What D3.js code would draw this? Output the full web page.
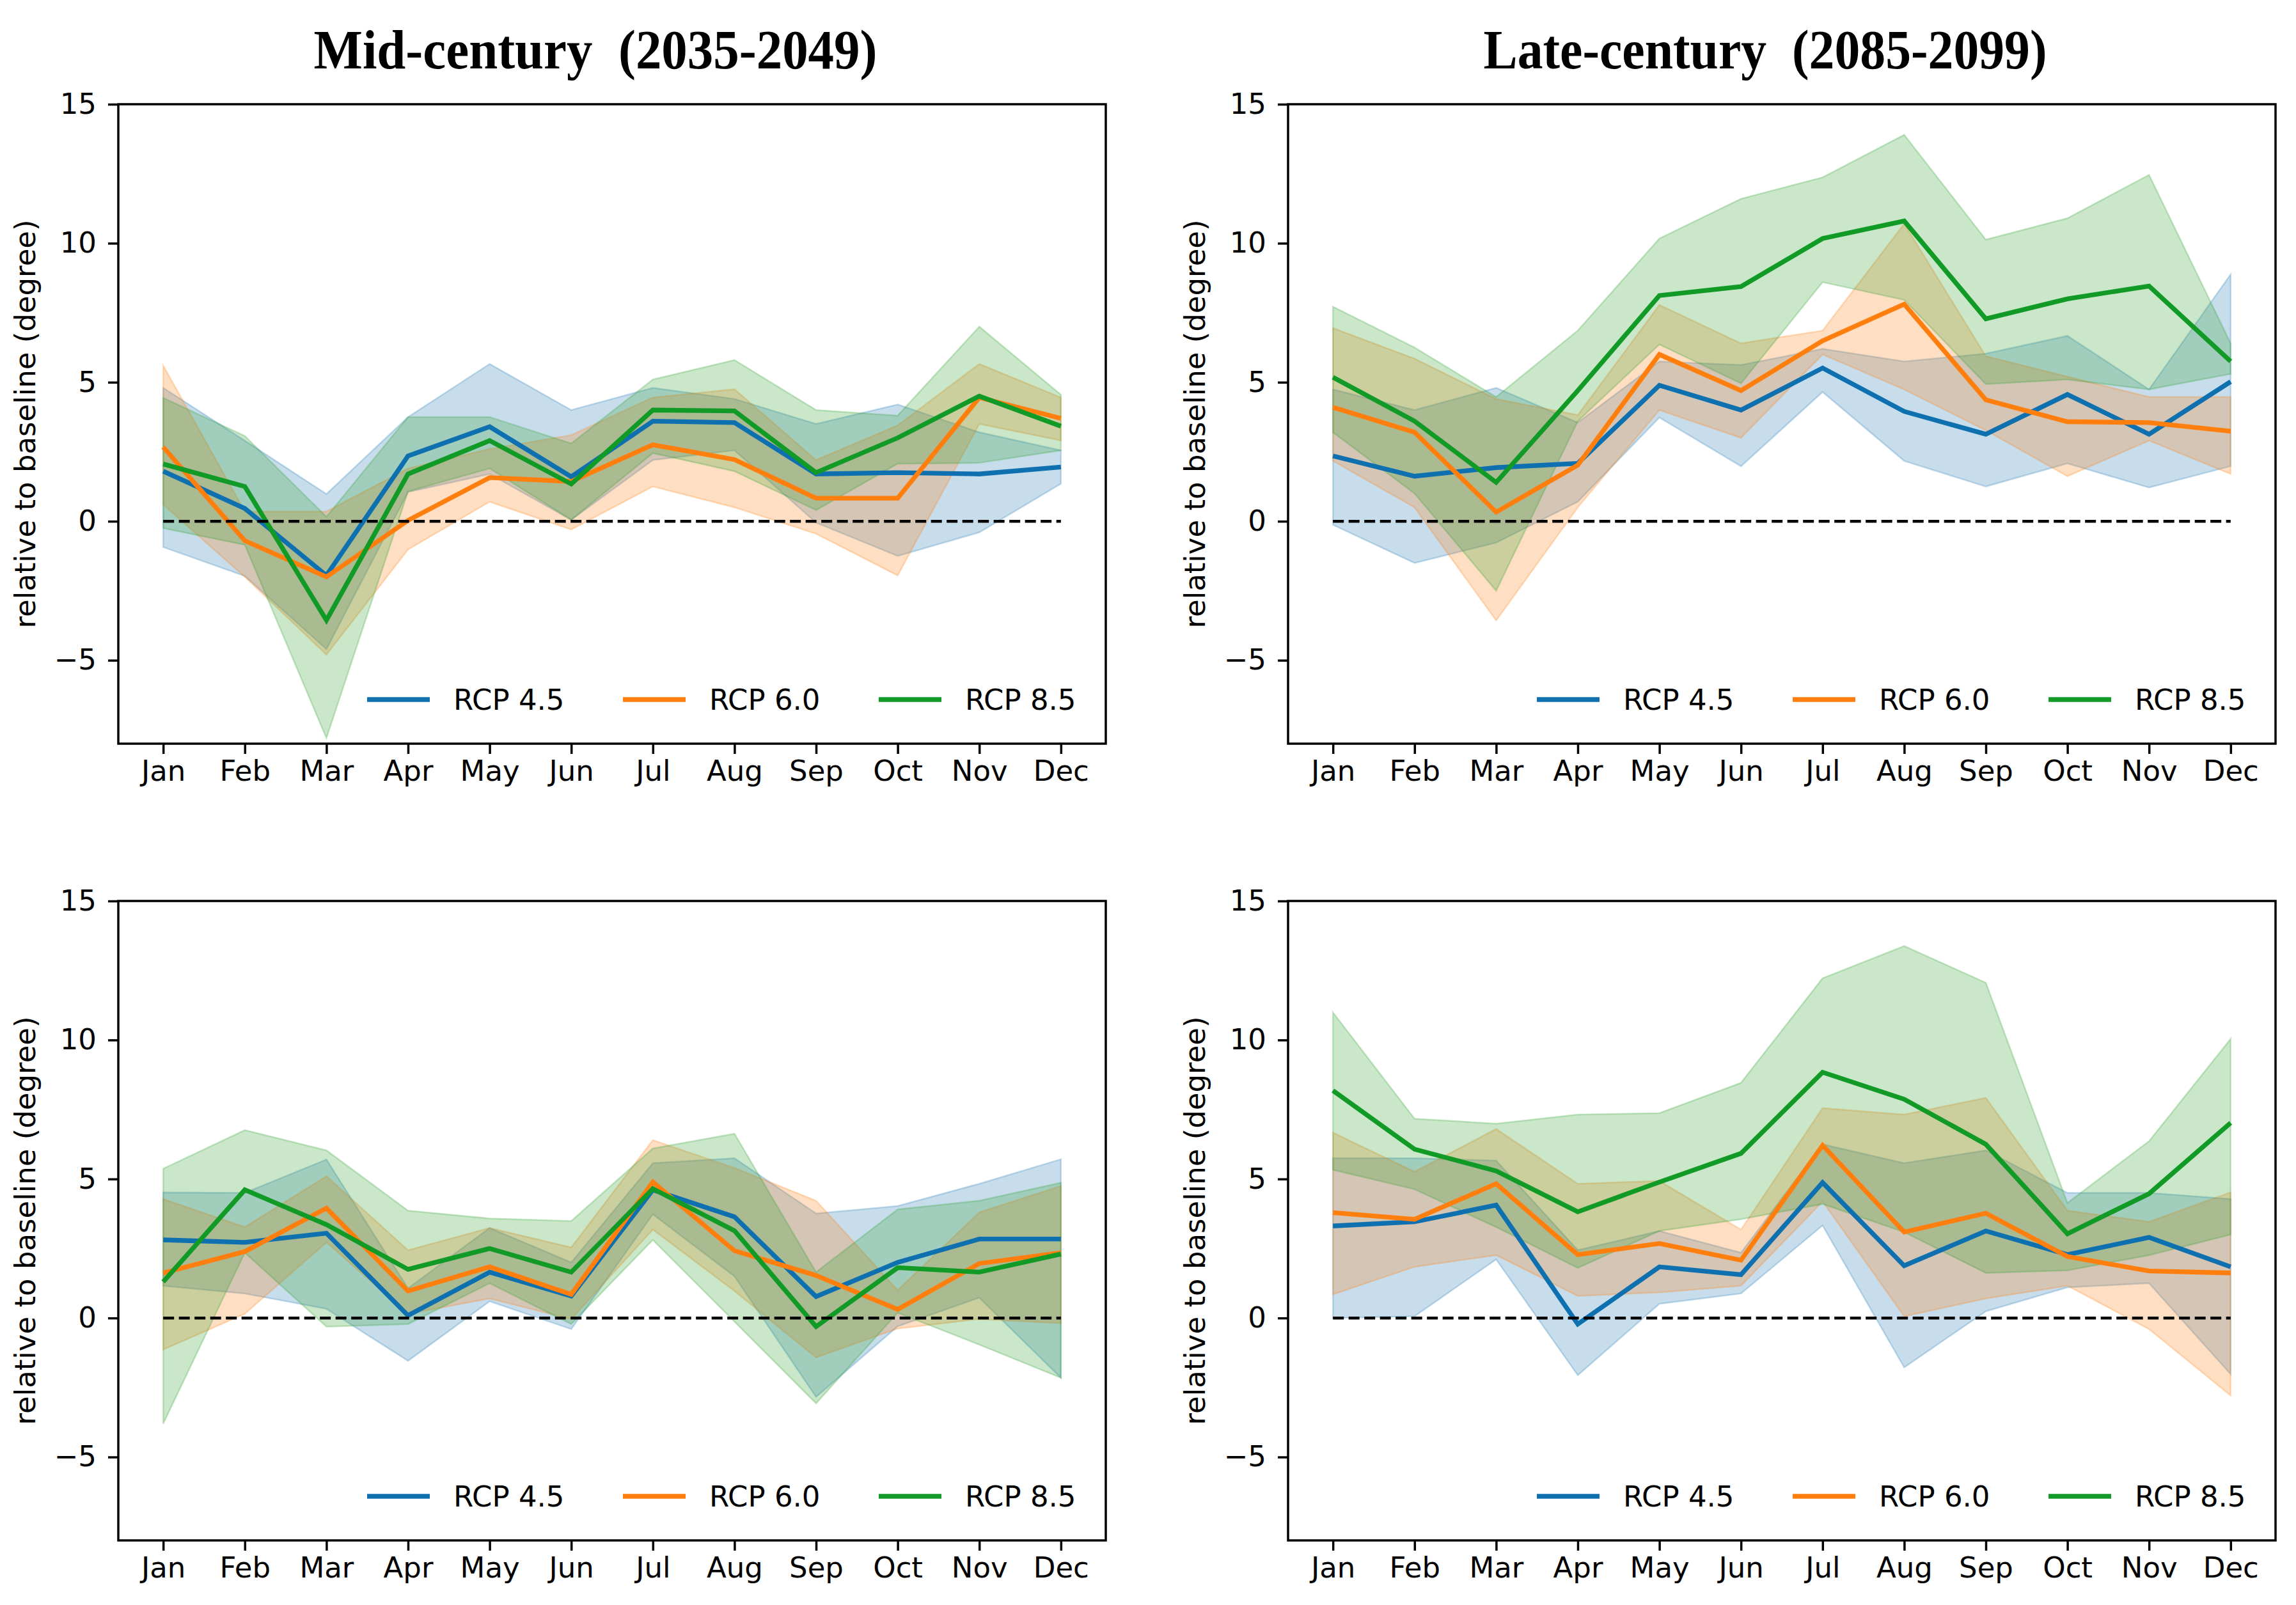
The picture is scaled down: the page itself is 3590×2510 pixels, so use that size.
<!DOCTYPE html>
<html>
<head>
<meta charset="utf-8">
<script src="https://cdn.jsdelivr.net/npm/d3@7"></script>
<style>
  body { margin: 0; background: #fff; }
  svg { display: block; }
</style>
</head>
<body>
<div id="chart"></div>
<script>
// categories
const months = ["Jan","Feb","Mar","Apr","May","Jun","Jul","Aug","Sep","Oct","Nov","Dec"];
const seriesNames = ["RCP 4.5", "RCP 6.0", "RCP 8.5"];
const yTicks = [-5, 0, 5, 10, 15];
const colTitles = ["Mid-century  (2035-2049)", "Late-century  (2085-2099)"];

// rows: RCP 4.5, RCP 6.0, RCP 8.5
// top-left: mid-century
const midTopMean = [
  [1.8, 0.46, -1.95, 2.35, 3.4, 1.6, 3.6, 3.55, 1.7, 1.75, 1.7, 1.95],
  [2.67, -0.7, -2.0, 0.03, 1.57, 1.43, 2.75, 2.22, 0.83, 0.83, 4.45, 3.7],
  [2.06, 1.25, -3.56, 1.7, 2.9, 1.34, 4.0, 3.97, 1.75, 3.0, 4.5, 3.42]
];
const midTopLo = [
  [-0.93, -1.97, -4.6, 1.05, 1.7, 0.05, 2.2, 2.55, -0.05, -1.25, -0.4, 1.35],
  [0.6, -2.0, -4.8, -1.02, 0.7, -0.3, 1.25, 0.5, -0.45, -1.95, 3.5, 2.9],
  [-0.25, -0.85, -7.8, 1.07, 1.9, 0.05, 2.45, 1.8, 0.4, 2.07, 2.1, 2.55]
];
const midTopHi = [
  [4.8, 2.9, 0.98, 3.75, 5.66, 4.0, 4.8, 4.4, 3.5, 4.2, 3.2, 2.55],
  [5.6, 0.35, 0.35, 1.9, 2.6, 3.1, 4.45, 4.75, 2.2, 3.45, 5.66, 4.45],
  [4.44, 3.07, 0.16, 3.75, 3.75, 2.8, 5.1, 5.8, 4.0, 3.8, 7.0, 4.55]
];

// top-right: late-century
const lateTopMean = [
  [2.35, 1.62, 1.93, 2.08, 4.89, 4.0, 5.51, 3.95, 3.13, 4.56, 3.13, 5.02],
  [4.1, 3.2, 0.33, 2.02, 6.0, 4.7, 6.49, 7.81, 4.37, 3.58, 3.55, 3.24],
  [5.18, 3.6, 1.4, 4.7, 8.12, 8.44, 10.17, 10.8, 7.28, 8.0, 8.46, 5.75]
];
const lateTopLo = [
  [-0.13, -1.5, -0.77, 0.7, 3.73, 1.98, 4.65, 2.17, 1.25, 2.08, 1.21, 1.98],
  [2.17, 0.5, -3.57, 0.5, 4.0, 3.0, 6.0, 4.74, 3.27, 1.62, 2.9, 1.7],
  [3.2, 1.0, -2.5, 3.6, 6.36, 4.96, 8.6, 7.96, 4.93, 5.1, 4.74, 5.3]
];
const lateTopHi = [
  [4.74, 4.0, 4.8, 3.55, 5.75, 5.62, 6.2, 5.75, 6.03, 6.67, 4.74, 8.88],
  [6.95, 5.85, 4.4, 3.82, 7.78, 6.4, 6.86, 10.7, 5.94, 5.2, 4.47, 4.47],
  [7.72, 6.25, 4.47, 6.86, 10.17, 11.6, 12.37, 13.9, 10.13, 10.9, 12.46, 6.4]
];

// bottom-left: mid-century
const midBotMean = [
  [2.81, 2.72, 3.05, 0.09, 1.65, 0.79, 4.61, 3.64, 0.77, 2.0, 2.84, 2.84],
  [1.62, 2.39, 3.95, 0.97, 1.84, 0.85, 4.89, 2.42, 1.53, 0.31, 1.96, 2.35],
  [1.3, 4.61, 3.36, 1.75, 2.5, 1.65, 4.65, 3.14, -0.31, 1.81, 1.65, 2.3]
];
const midBotLo = [
  [1.16, 0.88, 0.33, -1.54, 0.6, -0.4, 3.73, 1.5, -2.84, -0.3, 0.73, -2.15],
  [-1.14, 0.15, 2.72, 0.15, 0.7, -0.04, 3.18, 0.97, -1.42, -0.38, -0.04, -0.19],
  [-3.8, 2.35, -0.31, -0.22, 1.25, -0.22, 2.81, -0.13, -3.07, 0.19, -0.96, -2.15]
];
const midBotHi = [
  [4.52, 4.5, 5.7, 1.07, 3.24, 2.0, 5.57, 5.75, 3.76, 4.03, 4.83, 5.71],
  [4.28, 3.27, 5.1, 2.44, 3.24, 2.54, 6.4, 5.4, 4.22, 1.0, 3.8, 4.75],
  [5.37, 6.76, 6.03, 3.86, 3.58, 3.49, 6.1, 6.63, 1.65, 3.91, 4.22, 4.87]
];

// bottom-right: late-century
const lateBotMean = [
  [3.31, 3.46, 4.06, -0.22, 1.84, 1.56, 4.87, 1.88, 3.13, 2.28, 2.9, 1.84],
  [3.79, 3.55, 4.83, 2.28, 2.68, 2.08, 6.21, 3.09, 3.77, 2.21, 1.69, 1.62],
  [8.18, 6.07, 5.29, 3.82, 4.89, 5.92, 8.84, 7.87, 6.25, 3.03, 4.47, 7.02]
];
const lateBotLo = [
  [0.0, 0.06, 2.11, -2.06, 0.51, 0.88, 3.33, -1.78, 0.24, 1.1, 1.25, -2.02],
  [0.85, 1.84, 2.26, 0.79, 0.92, 1.16, 4.19, 0.06, 0.7, 1.16, -0.4, -2.79],
  [5.33, 4.63, 3.27, 1.8, 3.13, 3.55, 4.1, 3.09, 1.62, 1.71, 2.26, 3.0]
];
const lateBotHi = [
  [5.75, 5.75, 5.66, 2.44, 3.13, 2.35, 6.25, 5.57, 6.03, 4.5, 4.5, 4.28],
  [6.67, 5.26, 6.8, 4.83, 4.93, 3.18, 7.55, 7.32, 7.92, 3.86, 3.46, 4.52],
  [10.99, 7.17, 6.99, 7.32, 7.37, 8.46, 12.22, 13.38, 12.06, 4.14, 6.36, 10.04]
];

// band fills (tab10) and slightly deeper line colours as in the picture
const fillColors = ["#1f77b4", "#ff7f0e", "#2ca02c"];
const lineColors = ["#0f70b0", "#ff7f0e", "#129a26"];

const W = 3590, H = 2510;
const svg = d3.select("#chart").append("svg")
  .attr("width", W).attr("height", H)
  .attr("viewBox", `0 0 ${W} ${H}`);

const panels = [
  { left: 185,  top: 163,  mean: midTopMean,  lo: midTopLo,  hi: midTopHi,  title: colTitles[0] },
  { left: 2014, top: 163,  mean: lateTopMean, lo: lateTopLo, hi: lateTopHi, title: colTitles[1] },
  { left: 185,  top: 1409, mean: midBotMean,  lo: midBotLo,  hi: midBotHi },
  { left: 2014, top: 1409, mean: lateBotMean, lo: lateBotLo, hi: lateBotHi }
];
const pw = 1544, ph = 1000;
const font = "'DejaVu Sans', sans-serif";
const fs = 45;

panels.forEach(p => {
  const g = svg.append("g").attr("transform", `translate(${p.left},${p.top})`);

  const x = d3.scaleLinear().domain([-0.55, 11.55]).range([0, pw]);
  const y = d3.scaleLinear().domain([-8, 15]).range([ph, 0]);

  // bands
  p.mean.forEach((row, s) => {
    const area = d3.area()
      .x((d, i) => x(i))
      .y0((d, i) => y(p.lo[s][i]))
      .y1((d, i) => y(p.hi[s][i]));
    g.append("path")
      .datum(row)
      .attr("d", area)
      .attr("fill", fillColors[s])
      .attr("fill-opacity", 0.25)
      .attr("stroke", fillColors[s])
      .attr("stroke-opacity", 0.25)
      .attr("stroke-width", 2.5);
  });

  // mean lines
  p.mean.forEach((row, s) => {
    g.append("path")
      .datum(row)
      .attr("d", d3.line().x((d, i) => x(i)).y(d => y(d)))
      .attr("fill", "none")
      .attr("stroke", lineColors[s])
      .attr("stroke-width", 7.3);
  });

  // zero line
  g.append("line")
    .attr("x1", x(0)).attr("x2", x(11))
    .attr("y1", y(0)).attr("y2", y(0))
    .attr("stroke", "#000")
    .attr("stroke-width", 4.5)
    .attr("stroke-dasharray", "17,7.5");

  // axes
  const xAxis = g.append("g")
    .attr("transform", `translate(0,${ph})`)
    .call(d3.axisBottom(x).tickValues(d3.range(12)).tickFormat(i => months[i]).tickSize(16).tickPadding(10));
  const yAxis = g.append("g")
    .call(d3.axisLeft(y).tickValues(yTicks).tickFormat(d => d < 0 ? "\u2212" + Math.abs(d) : d).tickSize(16).tickPadding(18));
  [xAxis, yAxis].forEach(a => {
    a.select(".domain").remove();
    a.selectAll("line").attr("stroke", "#000").attr("stroke-width", 3.5);
    a.selectAll("text").attr("font-family", font).attr("font-size", fs).attr("fill", "#000");
  });

  // frame
  g.append("rect")
    .attr("width", pw).attr("height", ph)
    .attr("fill", "none").attr("stroke", "#000").attr("stroke-width", 3.5);

  // y label
  g.append("text")
    .attr("transform", `translate(-130,${ph / 2}) rotate(-90)`)
    .attr("text-anchor", "middle")
    .attr("font-family", font).attr("font-size", fs)
    .text("relative to baseline (degree)");

  // legend
  seriesNames.forEach((name, s) => {
    const lx = pw - 355 - (2 - s) * 400;
    const ly = ph - 69;
    g.append("line")
      .attr("x1", lx).attr("x2", lx + 98)
      .attr("y1", ly).attr("y2", ly)
      .attr("stroke", lineColors[s]).attr("stroke-width", 7.3);
    g.append("text")
      .attr("x", lx + 135).attr("y", ly + 16)
      .attr("font-family", font).attr("font-size", fs)
      .text(name);
  });

  // column title
  if (p.title) {
    svg.append("text")
      .attr("x", p.left + pw / 2 - 26)
      .attr("y", 107)
      .attr("text-anchor", "middle")
      .attr("font-family", "'Liberation Serif', 'Times New Roman', serif")
      .attr("font-weight", "bold")
      .attr("font-size", 86)
      .attr("textLength", 881)
      .attr("lengthAdjust", "spacingAndGlyphs")
      .style("white-space", "pre")
      .text(p.title);
  }
});
</script>
</body>
</html>
